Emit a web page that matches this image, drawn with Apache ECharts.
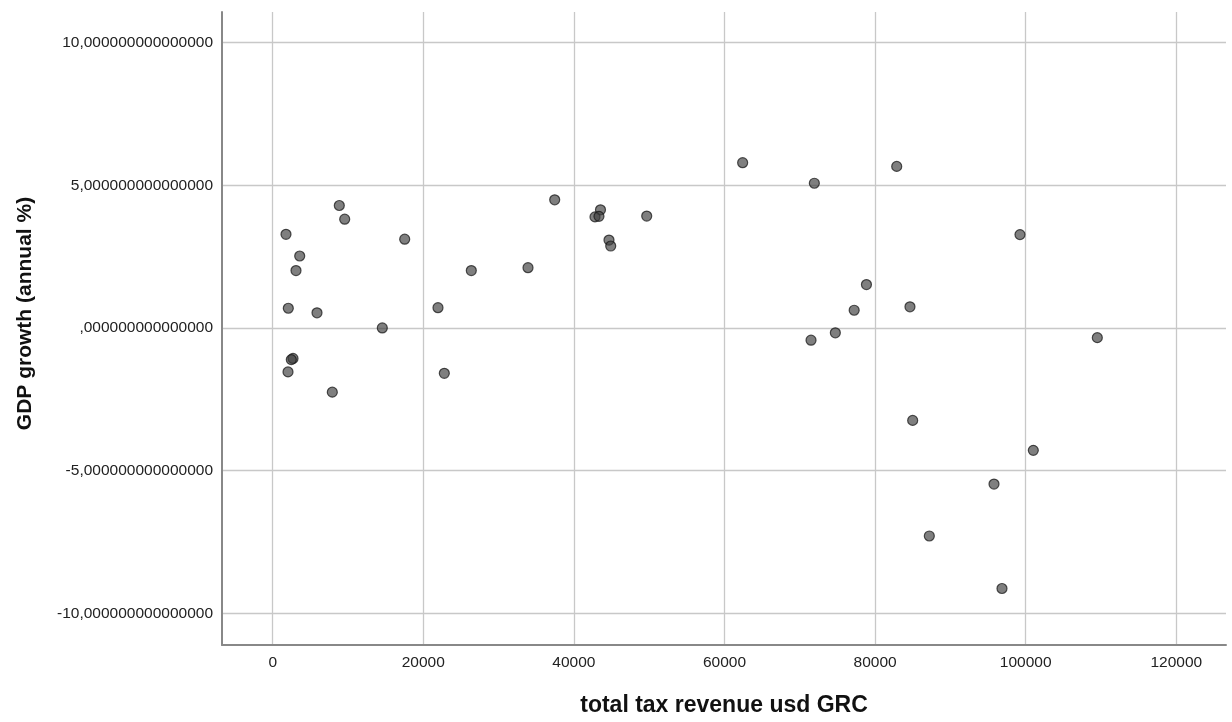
<!DOCTYPE html>
<html>
<head>
<meta charset="utf-8">
<title>GDP growth vs total tax revenue</title>
<script src="https://cdn.jsdelivr.net/npm/echarts@6/dist/echarts.min.js"></script>
<style>
  html, body { margin: 0; padding: 0; background: #ffffff; }
  #chart { width: 1232px; height: 722px; }
</style>
</head>
<body>
<div id="chart"></div>
<script>
// Total tax revenue (USD) for each year
const taxRevenue = [
  8845, 9562, 1766, 17530, 3586, 3094, 2072, 5883, 14555, 2696, 2470, 2032, 7915,
  37450, 43530, 42800, 43330, 44660, 44890, 26375, 33905, 21950, 22790, 49670,
  62410, 71930, 82870, 78850, 77220, 84630, 74720, 71490,
  99240, 109510, 84990, 101010, 95790, 87200, 96850
];

// GDP growth (annual %) for the same years
const gdpGrowth = [
  4.29, 3.81, 3.28, 3.11, 2.52, 2.01, 0.69, 0.53, 0.00, -1.07, -1.11, -1.54, -2.25,
  4.49, 4.14, 3.89, 3.91, 3.08, 2.87, 2.01, 2.11, 0.71, -1.59, 3.92,
  5.79, 5.07, 5.66, 1.52, 0.62, 0.74, -0.17, -0.43,
  3.27, -0.34, -3.24, -4.29, -5.47, -7.29, -9.13
];

const xTicks = [0, 20000, 40000, 60000, 80000, 100000, 120000];
const xTickLabels = ['0', '20000', '40000', '60000', '80000', '100000', '120000'];
const yTicks = [-10, -5, 0, 5, 10];
const yTickLabels = [
  '-10,000000000000000',
  '-5,000000000000000',
  ',000000000000000',
  '5,000000000000000',
  '10,000000000000000'
];

const xTitle = 'total tax revenue usd GRC';
const yTitle = 'GDP growth (annual %)';

const points = taxRevenue.map((x, i) => [x, gdpGrowth[i]]);

const font = '"Liberation Sans", Arial, Helvetica, sans-serif';
const gridColor = '#c8c8c8';
const axisColor = '#888888';

const chart = echarts.init(document.getElementById('chart'), null, { renderer: 'canvas' });

chart.setOption({
  animation: false,
  backgroundColor: '#ffffff',
  grid: { left: 222, right: 6, top: 12, bottom: 73, containLabel: false },
  xAxis: {
    type: 'value',
    min: -6733,
    max: 126600,
    name: xTitle,
    nameLocation: 'middle',
    nameGap: 49,
    nameTextStyle: { fontFamily: font, fontSize: 23, fontWeight: 'bold', color: '#111111' },
    axisLine: { show: true, onZero: false, lineStyle: { color: axisColor, width: 2 } },
    axisTick: { show: false, customValues: xTicks },
    axisLabel: {
      customValues: xTicks,
      margin: 10,
      fontFamily: font,
      fontSize: 15.5,
      color: '#222222',
      formatter: (v) => xTickLabels[xTicks.indexOf(v)] ?? ''
    },
    splitLine: { show: true, lineStyle: { color: gridColor, width: 1.3 } }
  },
  yAxis: {
    type: 'value',
    min: -11.11,
    max: 11.07,
    name: yTitle,
    nameLocation: 'middle',
    nameRotate: 90,
    nameGap: 186,
    nameTextStyle: {
      fontFamily: font, fontSize: 21, fontWeight: 'bold', color: '#111111',
      padding: [0, 0, 0, 30]
    },
    axisLine: { show: true, onZero: false, lineStyle: { color: axisColor, width: 2 } },
    axisTick: { show: false, customValues: yTicks },
    axisLabel: {
      customValues: yTicks,
      margin: 9,
      fontFamily: font,
      fontSize: 15.5,
      color: '#222222',
      formatter: (v) => yTickLabels[yTicks.indexOf(v)] ?? ''
    },
    splitLine: { show: true, lineStyle: { color: gridColor, width: 1.3 } }
  },
  series: [{
    type: 'scatter',
    data: points,
    symbol: 'circle',
    symbolSize: 10,
    itemStyle: {
      color: 'rgba(60,60,60,0.82)',
      borderColor: 'rgba(20,20,20,0.9)',
      borderWidth: 1.2
    },
    emphasis: { disabled: true }
  }]
});
</script>
</body>
</html>
